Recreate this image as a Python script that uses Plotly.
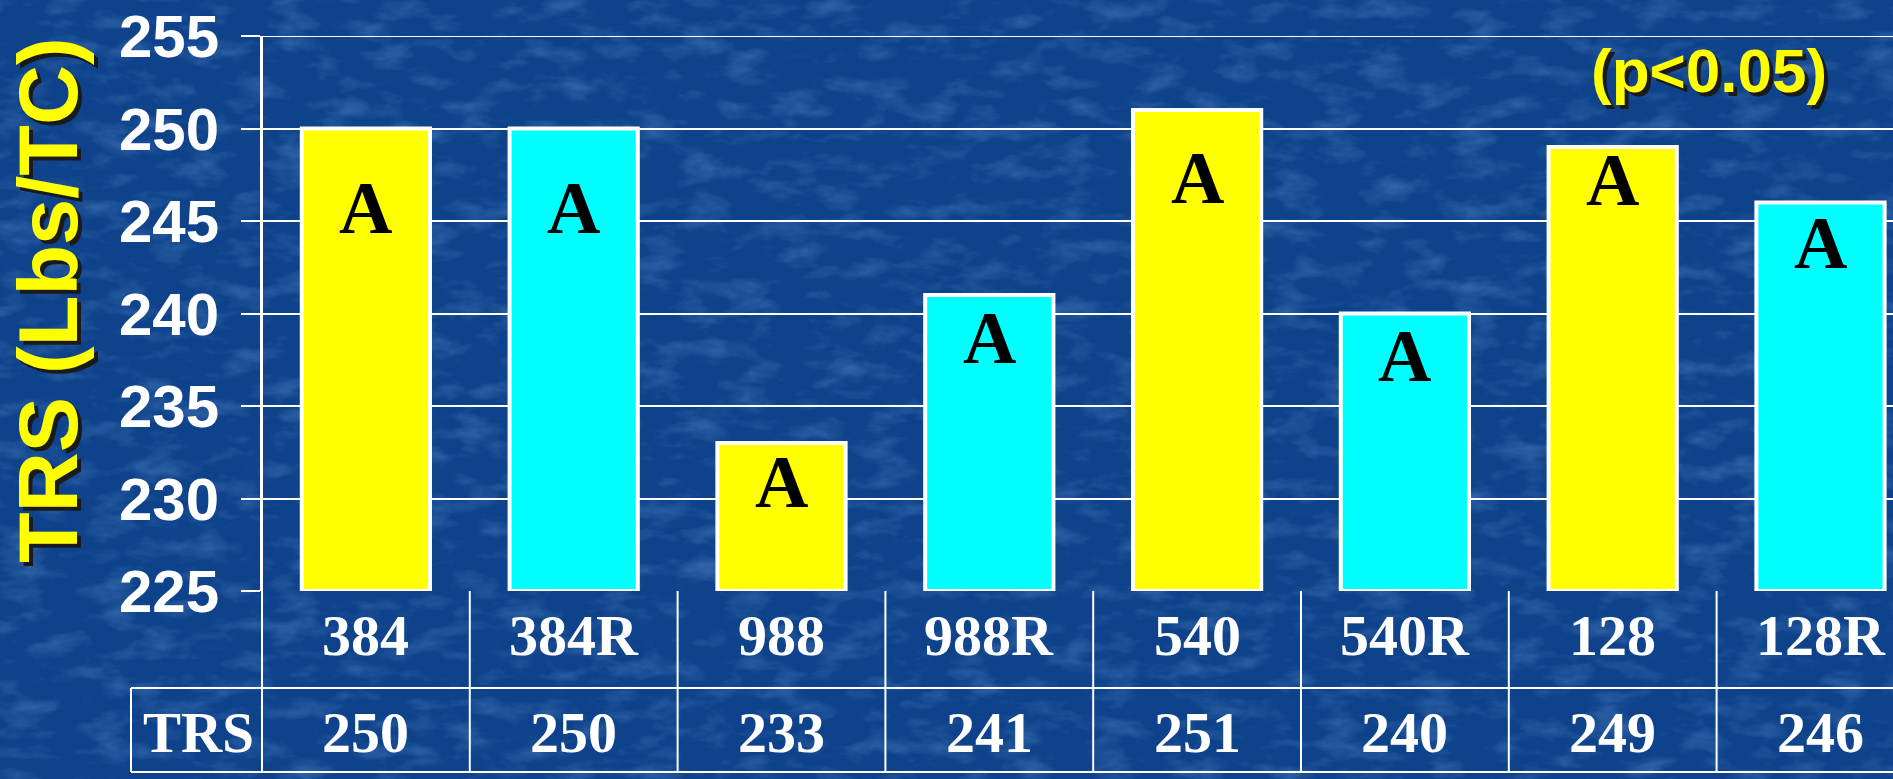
import plotly.graph_objects as go

# ---- data ----
varieties = ["384", "384R", "988", "988R", "540", "540R", "128", "128R"]
trs_values = [250, 250, 233, 241, 251, 240, 249, 246]
letters = ["A", "A", "A", "A", "A", "A", "A", "A"]
letter_heights = [245.7, 245.7, 230.9, 238.7, 247.3, 237.7, 247.2, 243.8]
bar_colors = ["#FFFF00", "#00FFFF", "#FFFF00", "#00FFFF",
              "#FFFF00", "#00FFFF", "#FFFF00", "#00FFFF"]
y_ticks = [225, 230, 235, 240, 245, 250, 255]

W, H = 1893, 779
ML, MT, MB = 262, 36, 188
PW, PH = W - ML, H - MT - MB
CAT_W = 207.8  # pixel width of one category slot

def py(pix):  # pixel row -> paper y
    return (H - MB - pix) / PH

def px(pix):  # pixel column -> paper x
    return (pix - ML) / PW

bg_svg = (
    "data:image/svg+xml;utf8,"
    "<svg xmlns='http://www.w3.org/2000/svg' width='1893' height='779'>"
    "<filter id='n' x='0' y='0' width='100%' height='100%'>"
    "<feTurbulence type='fractalNoise' baseFrequency='0.022 0.05' numOctaves='4' seed='11'/>"
    "<feColorMatrix type='matrix' values='0 0 0 0 0.30  0 0 0 0 0.50  0 0 0 0 0.85  0 0 0 2.0 -0.95'/>"
    "</filter>"
    "<rect width='100%' height='100%' fill='%230e438c'/>"
    "<rect width='100%' height='100%' filter='url(%23n)' opacity='0.3'/>"
    "</svg>"
)

fig = go.Figure()
fig.add_trace(go.Bar(
    x=varieties, y=[v - 225 for v in trs_values], base=225,
    marker=dict(color=bar_colors, line=dict(color="white", width=4)),
    width=0.617, hoverinfo="skip",
))

serif = "Liberation Serif"
sans = "Liberation Sans"
ann = []
for i, (lab, h) in enumerate(zip(letters, letter_heights)):
    ann.append(dict(x=i, y=h, xref="x", yref="y", text=lab, showarrow=False,
                    xanchor="center", yanchor="middle",
                    font=dict(family=serif, size=74, color="black", weight="bold")))
for i, (cat, val) in enumerate(zip(varieties, trs_values)):
    ann.append(dict(x=i, y=py(635), xref="x", yref="paper", text=cat, showarrow=False,
                    xanchor="center", yanchor="middle",
                    font=dict(family=serif, size=58, color="white", weight="bold")))
    ann.append(dict(x=i, y=py(732), xref="x", yref="paper", text=str(val), showarrow=False,
                    xanchor="center", yanchor="middle",
                    font=dict(family=serif, size=58, color="white", weight="bold")))
ann.append(dict(x=px(198), y=py(732), xref="paper", yref="paper", text="TRS", showarrow=False,
                xanchor="center", yanchor="middle",
                font=dict(family=serif, size=57, color="white", weight="bold")))

# yellow titles with dark drop shadow
for col, dx, dy in [("#1a1a1a", 4, -4), ("#FFFF00", 0, 0)]:
    ann.append(dict(x=px(48), y=py(300), xref="paper", yref="paper", text="TRS (Lbs/TC)",
                    textangle=-90, showarrow=False, xshift=dx, yshift=dy,
                    xanchor="center", yanchor="middle",
                    font=dict(family=sans, size=83, color=col, weight="bold")))
    ann.append(dict(x=px(1709), y=py(70), xref="paper", yref="paper", text="(p<0.05)",
                    showarrow=False, xshift=dx, yshift=dy,
                    xanchor="center", yanchor="middle",
                    font=dict(family=sans, size=62, color=col, weight="bold")))

line = dict(color="white", width=2)
shapes = [
    # top gridline at the axis maximum
    dict(type="line", xref="paper", yref="y", x0=0, x1=1, y0=y_ticks[-1], y1=y_ticks[-1],
         line=line, layer="below"),
    # y axis extended through the table
    dict(type="line", xref="paper", yref="paper", x0=0, x1=0, y0=1, y1=py(772), line=line),
    dict(type="line", xref="paper", yref="paper", x0=px(131), x1=1, y0=py(688), y1=py(688), line=line),
    dict(type="line", xref="paper", yref="paper", x0=px(131), x1=1, y0=py(772), y1=py(772), line=line),
    dict(type="line", xref="paper", yref="paper", x0=px(131), x1=px(131), y0=py(688), y1=py(772), line=line),
]
for k in range(len(varieties) - 1):
    shapes.append(dict(type="line", xref="x", yref="paper", x0=k + 0.5, x1=k + 0.5,
                       y0=0, y1=py(772), line=line))

fig.update_layout(
    width=W, height=H,
    margin=dict(l=ML, r=0, t=MT, b=MB, pad=0),
    paper_bgcolor="#0f468f",
    plot_bgcolor="rgba(0,0,0,0)",
    showlegend=False,
    annotations=ann,
    shapes=shapes,
    images=[dict(source=bg_svg, xref="paper", yref="paper",
                 x=-ML / PW, y=(H - MB) / PH, sizex=W / PW, sizey=H / PH,
                 xanchor="left", yanchor="top", sizing="stretch", layer="below")],
    xaxis=dict(type="category", range=[-0.5, -0.5 + PW / CAT_W], showticklabels=False,
               showgrid=False, zeroline=False, showline=False, ticks=""),
    yaxis=dict(range=[225, 255], tickvals=y_ticks, showgrid=True, gridcolor="white", gridwidth=2,
               zeroline=False, showline=True, linecolor="white", linewidth=2,
               ticks="outside", ticklen=19, tickcolor="white", tickwidth=2,
               ticklabelstandoff=10,
               tickfont=dict(family=sans, size=60, color="white", weight="bold")),
)

fig.write_html(
    "out.html",
    config={"displayModeBar": False},
    post_script="document.body.style.margin='0';document.body.style.padding='0';"
                "document.body.style.overflow='hidden';"
                "document.documentElement.style.overflow='hidden';",
)
